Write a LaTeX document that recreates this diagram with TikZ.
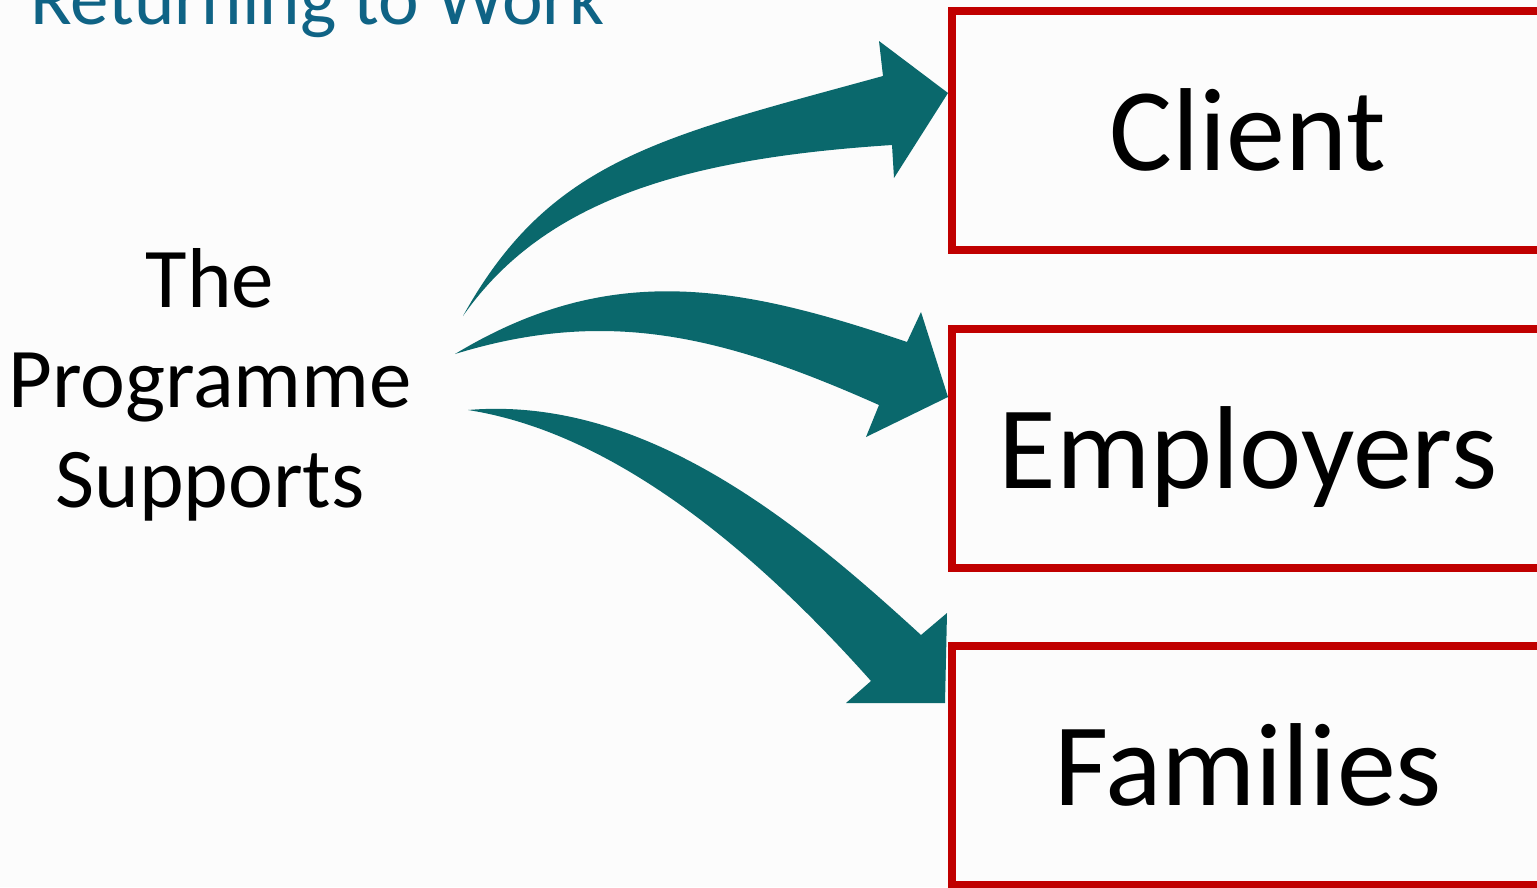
\documentclass[tikz,border=0pt]{standalone}
\usepackage{fontspec}
\setmainfont{Carlito}
\usetikzlibrary{calc}
\definecolor{arrowteal}{HTML}{0A686C}
\definecolor{titleblue}{HTML}{0F6385}
\definecolor{boxred}{HTML}{C00000}
\definecolor{paper}{HTML}{FCFCFC}
\begin{document}
\begin{tikzpicture}[x=1pt,y=-1pt,
  target/.style={draw=boxred, line width=8pt, minimum width=592pt,
    minimum height=239pt, inner sep=0pt, text height=80pt, text depth=0pt,
    font=\fontsize{118}{118}\selectfont},
  bigarrow/.style={fill=arrowteal}]
\useasboundingbox (0,0) rectangle (1537,887);
\fill[paper] (0,0) rectangle (1537,887);

% heading
\node[anchor=base west, inner sep=0pt, text=titleblue,
      font=\fontsize{77}{77}\selectfont] (title) at (30,24) {Returning to Work};

% source text (base anchor sits on the last line)
\node[align=center, anchor=base, inner sep=0pt,
      font=\fontsize{85}{100}\selectfont] (src) at (210,507) {The\\Programme\\Supports};

% target boxes
\node[target] (client)    at (1248,130.5) {Client};
\node[target] (employers) at (1248,448)   {Employers};
\node[target] (families)  at (1248,765)   {Families};

% arrow ends
\coordinate (tailC) at (463,316);
\coordinate (tailE) at (455,354);
\coordinate (tailF) at (468,410);
\coordinate (tipC) at ($(client.west)+(0,-37.5)$);
\coordinate (tipE) at ($(employers.west)+(0,-51)$);
\coordinate (tipF) at ($(families.west)+(-3,-62)$);

% curved block arrows: outer edge, head, inner edge back to the tail
\fill[bigarrow] (tailC) .. controls (550,159) and (661,137) .. (883,76)
  -- (879,41) -- (tipC) -- (894,178) -- (892,145)
  .. controls (692,158) and (546,197) .. (tailC) -- cycle;

\fill[bigarrow] (tailE) .. controls (609,261) and (737,284) .. (907,342)
  -- (921,312) -- (tipE) -- (866,437) -- (879,405)
  .. controls (724,336) and (608,307) .. (tailE) -- cycle;

\fill[bigarrow] (tailF) .. controls (647,395) and (803,527) .. (921,635)
  -- (947,613) -- (tipF) -- (846,703) -- (871,681)
  .. controls (758,554) and (616,433) .. (tailF) -- cycle;
\end{tikzpicture}
\end{document}
